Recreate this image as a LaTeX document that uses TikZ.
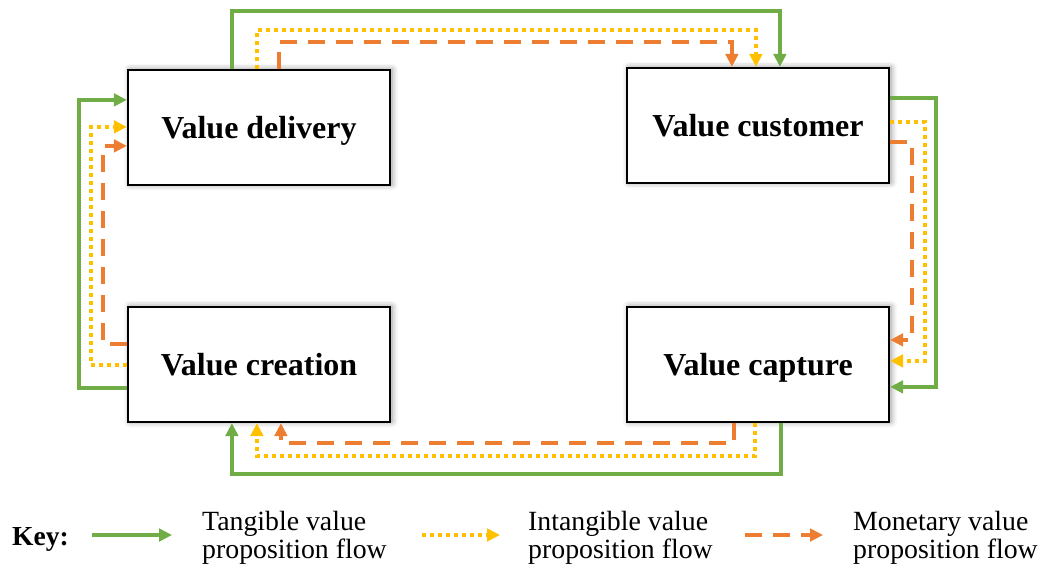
\documentclass[tikz,border=0pt]{standalone}
\usepackage{fontspec}
\setmainfont{Liberation Serif}
\usetikzlibrary{arrows.meta,shadows.blur}

\definecolor{tgreen}{HTML}{70AD47}
\definecolor{tyellow}{HTML}{FFC000}
\definecolor{torange}{HTML}{ED7D31}

\tikzset{
  stagebox/.style={draw=black, line width=2.2pt, fill=white,
    minimum width=262pt, minimum height=115pt, inner sep=0pt,
    text height=22pt, text depth=0pt,
    font=\fontsize{32}{34}\selectfont\bfseries,
    blur shadow={shadow xshift=2pt, shadow yshift=0.5pt,
      shadow blur radius=6pt, shadow opacity=45}},
  tip/.style={-{Triangle[length=13pt,width=12.5pt]}},
  tangible/.style={tip, draw=tgreen, line width=3.8pt},
  intangible/.style={tip, draw=tyellow, line width=4pt,
    dash pattern=on 4pt off 4pt},
  monetary/.style={tip, draw=torange, line width=3.8pt,
    dash pattern=on 17pt off 11pt},
  keytext/.style={font=\fontsize{27.8}{28}\selectfont, align=left,
    inner sep=0pt, anchor=west}
}

\begin{document}
\begin{tikzpicture}[x=1pt, y=-1pt]
\useasboundingbox (0,0) rectangle (1045,568);

% the four stages
\node[stagebox] (del) at (259,127.5) {Value delivery};
\node[stagebox] (cus) at (758,125.5) {Value customer};
\node[stagebox] (cre) at (259,364.5) {Value creation};
\node[stagebox] (cap) at (758,364.5) {Value capture};

% delivery -> customer (over the top)
\draw[tangible]   ([xshift=105pt]del.north west) -- ++(0,-58) -| ([xshift=154pt]cus.north west);
\draw[intangible] ([xshift=130pt]del.north west) -- ++(0,-39) -| ([xshift=130pt]cus.north west);
\draw[monetary]   ([xshift=152pt]del.north west) -- ++(0,-27) -| ([xshift=106pt]cus.north west);

% customer -> capture (down the right side)
\draw[tangible]   ([yshift=-31pt]cus.north east) -- ++(46,0) |- ([yshift=-81pt]cap.north east);
\draw[intangible] ([yshift=-55pt]cus.north east) -- ++(35,0) |- ([yshift=-55pt]cap.north east);
\draw[monetary]   ([yshift=-75pt]cus.north east) -- ++(22,0) |- ([yshift=-34pt]cap.north east);

% capture -> creation (under the bottom)
\draw[tangible]   ([xshift=155pt]cap.south west) -- ++(0,51) -| ([xshift=105pt]cre.south west);
\draw[intangible] ([xshift=129pt]cap.south west) -- ++(0,33) -| ([xshift=130pt]cre.south west);
\draw[monetary]   ([xshift=108pt]cap.south west) -- ++(0,20) -| ([xshift=154pt]cre.south west);

% creation -> delivery (up the left side)
\draw[tangible]   ([yshift=35pt]cre.south west) -- ++(-48,0) |- ([yshift=-31pt]del.north west);
\draw[intangible] ([yshift=58pt]cre.south west) -- ++(-36,0) |- ([yshift=-58pt]del.north west);
\draw[monetary]   ([yshift=79pt]cre.south west) -- ++(-24,0) |- ([yshift=-77pt]del.north west);

% key
\node[font=\fontsize{27.5}{28}\selectfont\bfseries, anchor=base west, inner sep=0pt]
  (key) at (12,545) {Key:};
\coordinate (kt1) at (92,535);  \coordinate (kt2) at (172,535);
\coordinate (ki1) at (422,535); \coordinate (ki2) at (500,535);
\coordinate (km1) at (745,535); \coordinate (km2) at (823,535);
\draw[tangible]   (kt1) -- (kt2);
\draw[intangible] (ki1) -- (ki2);
\draw[monetary]   (km1) -- (km2);
\node[keytext] (ktl) at (202,537.5) {Tangible value\\proposition flow};
\node[keytext] (kil) at (528,537.5) {Intangible value\\proposition flow};
\node[keytext] (kml) at (853,537.5) {Monetary value\\proposition flow};
\end{tikzpicture}
\end{document}
